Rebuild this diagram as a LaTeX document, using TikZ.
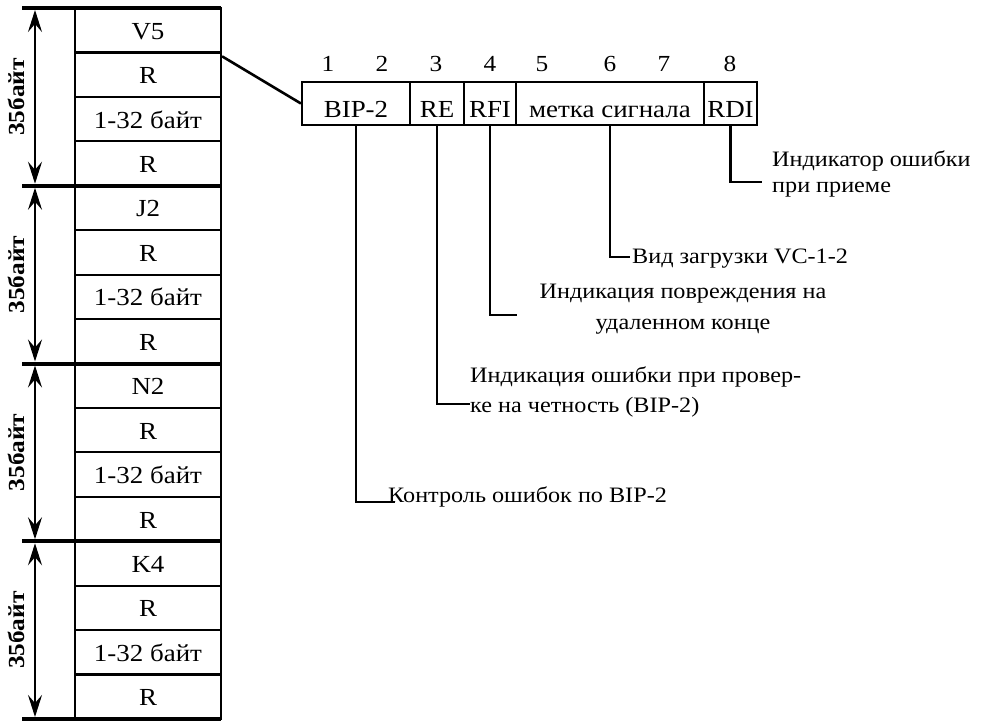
\documentclass[tikz,border=0pt]{standalone}
\usepackage{fontspec}
\setmainfont{Liberation Serif}[FakeStretch=1.1]
\usetikzlibrary{positioning,arrows.meta,calc}

\begin{document}
\begin{tikzpicture}[x=1pt,y=-1pt,
  font=\fontsize{24.5}{29}\selectfont,
  rowbox/.style={rectangle,draw,line width=2.2pt,minimum width=146pt,minimum height=44.44pt,inner sep=0pt,text height=18pt,text depth=0pt},
  fieldbox/.style={rectangle,draw,line width=2.2pt,minimum height=43pt,inner sep=0pt,minimum width=#1,text height=28pt,text depth=0pt},
  bitnum/.style={inner sep=0pt,anchor=base,font=\fontsize{23}{27}\selectfont},
  lead/.style={line width=2.6pt},
  blksep/.style={line width=4pt},
  dim/.style={<->,>={Stealth[length=22pt,width=14pt,inset=8pt]},line width=2pt},
  note/.style={inner sep=0pt,anchor=base west,align=left,font=\fontsize{22}{#1}\selectfont},
  note/.default=30,
  blklabel/.style={rotate=90,font=\fontsize{23}{26}\selectfont\bfseries,inner sep=0pt},
]
\useasboundingbox (0,0) rectangle (995,722);

% ==== left column: 4 blocks of 35 bytes ====
\foreach \hdr [count=\b from 0] in {V5,J2,N2,K4}{
  \foreach \txt [count=\r from 0] in {\hdr,R,1-32 байт,R}{
    \node[rowbox] (row\b-\r) at (148,30.22+177.75*\b+44.44*\r) {\txt};
  }
  \coordinate (dtop\b) at (35,10+177.75*\b);
  \coordinate (dbot\b) at (35,183.75+177.75*\b);
  \draw[dim] (dtop\b) -- (dbot\b);
  \node[blklabel] (len\b) at (16,96.9+177.75*\b) {35байт};
}
\foreach \k in {0,...,4}
  \draw[blksep] (22,8+177.75*\k) -- (221,8+177.75*\k);

% ==== V5 byte ====
\node[fieldbox=108pt] (bip) at (356,103.5) {BIP-2};
\node[fieldbox=54pt] (re) at (437,103.5) {RE};
\node[fieldbox=52pt] (rfi) at (490,103.5) {RFI};
\node[fieldbox=188pt] (mtk) at (610,103.5) {метка сигнала};
\node[fieldbox=53pt] (rdi) at (730.5,103.5) {RDI};

% bit numbers
\foreach \n/\xx in {1/328,2/382,3/436,4/490,5/542,6/610,7/664,8/730}
  \node[bitnum] (bit\n) at (\xx,72) {\n};

\draw[lead] ([yshift=-5pt]row0-1.north east) -- (bip.west);

% ==== leaders and notes ====
\coordinate (rdiend) at (762,182);
\coordinate (mtkend) at (630,257);
\coordinate (rfiend) at (517,315);
\coordinate (reend) at (470,404);
\coordinate (bipend) at (395,502);

\draw[lead] (rdi.south) |- (rdiend);
\draw[lead] (mtk.south) |- (mtkend);
\draw[lead] (rfi.south) |- (rfiend);
\draw[lead] (re.south) |- (reend);
\draw[lead] (bip.south) |- (bipend);

% multi-line notes: base = last line
\node[note=26] (txrdi) at (772,193) {Индикатор ошибки\\при приеме};
\node[note] (txmtk) at (632,263) {Вид загрузки VC-1-2};
\node[note=31,anchor=base,align=center] (txrfi) at (683,329) {Индикация повреждения на\\удаленном конце};
\node[note] (txre) at (470,412) {Индикация ошибки при провер-\\ке на четность (BIP-2)};
\node[note] (txbip) at (388,502) {Контроль ошибок по BIP-2};

\end{tikzpicture}
\end{document}
